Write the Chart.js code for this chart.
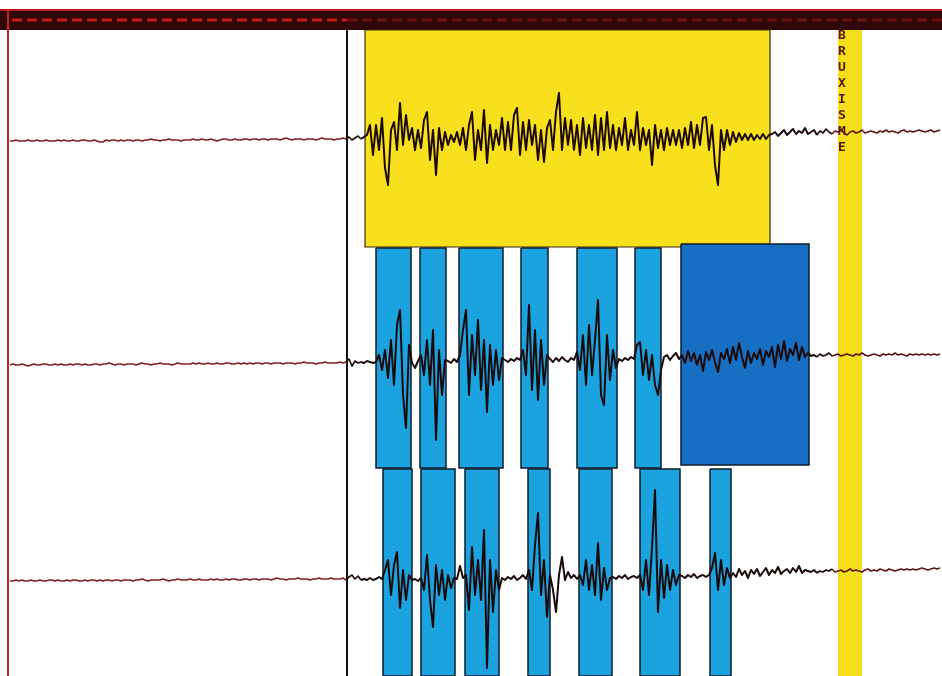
<!DOCTYPE html>
<html>
<head>
<meta charset="utf-8">
<script src="https://cdn.jsdelivr.net/npm/chart.js@4.4.1/dist/chart.umd.min.js"></script>
<style>
  html, body { margin: 0; padding: 0; background: #fff; }
  #wrap { width: 942px; height: 676px; }
</style>
</head>
<body>
<div id="wrap"><canvas id="emg" width="942" height="676"></canvas></div>
<script>
// Línea base de cada canal y muestreo (una muestra cada 3 unidades desde x = 10)
const lineaBase = [141, 365, 581]
const inicioMuestras = 10
const pasoMuestras = 3

// Amplitud de cada canal (positivo = hacia arriba)
const canal1 = [
  0,0,1,0,0,0,1,0,0,1, 0,0,1,0,0,0,1,0,1,0, 0,1,0,0,1,1,0,0,1,0, -1,-1,1,0,1,1,0,1,0,1,
  1,0,1,1,0,1,1,2,1,1, 0,1,1,2,1,1,1,0,1,1, 1,2,1,1,2,1,1,2,1,0, 1,2,2,1,1,2,1,1,2,2,
  1,2,2,1,2,2,1,2,2,2, 1,2,3,2,1,2,2,2,1,2, 2,2,1,2,3,2,2,2,1,2, 2,3,
  2,4,1,3,5,2,4,
  6,16,-14,16,-9,23,-27,-44,11,19, -9,38,-4,26,1,13,-9,11,-7,21, 29,-19,11,-34,13,-9,9,-4,6,-1,
  9,-4,13,-9,16,29,-19,11,-9,31, -22,16,-9,11,-4,23,-9,19,-9,26, 33,-14,19,-9,21,-4,16,-19,11,-21,
  13,21,-9,29,48,-9,23,-4,21,-9, 16,-14,23,-7,16,-9,26,-14,23,-9, 29,-7,16,-9,13,-4,23,-9,11,-4,
  29,-9,13,-4,11,-24,16,-7,11,-9, 13,-4,11,-4,11,-7,13,-4,19,-7, 16,-4,23,24,-9,16,-24,-44,11,-9,
  11,-4,9,-1,8,1,7,1,7,1, 6,2,7,2,6,
  7,9,5,8,11,6,9,12,7,10, 8,13,7,9,11,6,10,8,12,9, 7,10,9,11,8,6,9,10,8,9, 11,8,9,10,9,8,10,9,11,9,
  10,9,8,10,11,9,10,9,10,11, 10,9,10,11,9,10,11
]

const canal2 = [
  0,1,0,0,1,0,-1,0,1,0, 0,1,1,0,0,1,0,1,0,0, 1,0,1,1,0,1,0,0,1,1, 0,1,1,2,1,0,1,1,0,1,
  1,1,0,1,2,1,1,0,1,1, 2,1,1,1,0,1,2,1,1,1, 1,2,1,2,1,1,2,1,1,2, 1,1,2,2,1,1,2,1,2,1,
  2,1,2,2,1,2,2,1,2,2, 2,1,2,2,2,1,2,2,3,2, 2,2,1,2,2,3,2,2,2,2, 3,2,
  3,6,-1,4,2,3,2,4,3,2,
  3,10,-5,15,-13,25,-20,40,55,-30,-63,20,
  2,-3,4,
  10,-10,25,-20,35,-75,15,-30,5,
  4,2,6,3,
  10,35,55,-30,30,-10,45,-25,25,-47,20,-20,15,-15,7,
  5,3,6,4,7,5,
  15,-10,60,-25,35,-35,25,-20,10,
  6,3,7,4,8,5,3,7,5,
  13,-5,30,-20,40,-10,25,65,-30,-40,30,-15,15,-3,
  6,4,7,5,8,6,
  20,23,-10,15,-15,10,-20,-30,-5,
  8,10,5,9,12,6,
  10,2,14,4,12,0,10,-6,13,5, 15,3,-7,12,6,16,2,18,5,22, 8,-3,14,2,12,6,16,0,14,8,
  18,-2,20,6,24,4,16,10,22,5, 18,8,12,
  9,10,8,11,9,10,12,9,10,11, 9,10,11,10,9,11,10,12,10,9, 10,11,10,9,11,10,11,10,12,10,
  11,10,9,11,10,11,10,11,10,11, 10,11,10,11
]

const canal3 = [
  0,0,1,0,1,0,0,1,0,0, 1,0,0,1,1,0,1,0,0,1, 0,1,1,0,0,1,0,1,1,0, 1,0,1,1,0,1,1,0,1,1,
  1,0,1,1,2,1,0,1,1,1, 1,2,1,0,1,1,2,1,1,1, 2,1,1,2,1,1,1,2,1,2, 1,1,2,1,2,2,1,1,2,2,
  1,2,2,1,2,2,2,1,2,3, 2,2,1,2,2,2,3,2,2,2, 1,2,2,3,2,2,2,3,2,2, 2,3,
  1,4,6,2,5,1,2,1,3,1,2,4,2,
  11,21,-14,16,29,-27,11,-19,6,
  1,2,0,
  3,-9,26,-19,-46,16,-14,11,-19,6,-7,3,
  2,15,3,
  6,-29,34,-14,21,-19,51,-87,21,-31,11,-9,
  3,1,4,2,5,1,3,6,2,
  11,-9,36,68,-14,21,-36,6,
  -9,-31,6,24,1,9,3,6,2,
  6,-4,21,-9,16,-14,38,-19,13,-9,3,
  4,2,5,3,6,2,4,5,3,
  6,-9,21,-14,33,91,-31,21,-17,16,-9,11,-4,6,
  5,3,6,4,7,3,5,6,4,
  6,13,28,-9,21,-4,13,3,
  8,4,12,6,10,3,11,7,12,5, 9,13,6,11,8,14,7,10,12,8, 13,9,15,8,11,10,9,11,8,10,
  9,11,10,12,9,10,11,9,10,12, 10,11,10,9,11,12,10,11,10,12, 11,10,12,11,10,11,12,11,12,11,
  12,11,12,13,12,11,12,13,12,13
]

// Zonas marcadas: [x inicio, x fin, y arriba, y abajo]
const zonaAmarilla = [365, 770, 30, 247]
const franjaBruxismo = [838, 862, 30, 676]
const etiqueta = 'BRUXISME'
const fila1 = [248, 468]
const burstsFila1 = [[376, 411], [420, 446], [459, 503], [521, 548], [577, 617], [635, 661]]
const burstLargo = [681, 809, 244, 465]
const fila2 = [469, 676]
const burstsFila2 = [[383, 412], [421, 455], [465, 499], [528, 550], [579, 612], [640, 680], [710, 731]]

// Marco del registro
const bandaSuperior = [0, 942, 9, 30]
const inicioEvento = 347

const rect = (x0, x1, y0, y1) => [
  {x: x0, y: y0}, {x: x1, y: y0}, {x: x1, y: y1}, {x: x0, y: y1}, {x: x0, y: y0}
]

const caja = (pts, fondo, borde, ancho, orden, id) => ({
  id: id,
  data: pts,
  fill: 'shape',
  backgroundColor: fondo,
  borderColor: borde,
  borderWidth: ancho,
  order: orden
})

// Trazo rojo oscuro antes del evento, casi negro durante la actividad
const traza = (valores, base) => ({
  data: valores.map((v, i) => ({x: inicioMuestras + i * pasoMuestras, y: base - v})),
  fill: false,
  borderWidth: 1.6,
  borderColor: '#1c0a0a',
  borderJoinStyle: 'round',
  segment: {
    borderColor: c => {
      const x = c.p0.parsed.x
      if (x < 346) return '#861e1e'
      if (x < 830) return '#1c0a0a'
      return '#5e1616'
    },
    borderWidth: c => {
      const x = c.p0.parsed.x
      return (x > 360 && x < 815) ? 2 : 1.6
    }
  },
  order: 1
})

const linea = (pts, color, ancho, dash, orden) => ({
  data: pts,
  fill: false,
  borderColor: color,
  borderWidth: ancho,
  borderDash: dash,
  order: orden
})

const datasets = []
datasets.push(caja(rect(...bandaSuperior), '#300606', 'rgba(0,0,0,0)', 0, 11))
datasets.push(caja(rect(...zonaAmarilla), '#f8e11c', '#3a2a10', 1.2, 10))
datasets.push(caja(rect(...franjaBruxismo), '#f6df1a', 'rgba(0,0,0,0)', 0, 9, 'franja'))
for (let b of burstsFila1) {
  datasets.push(caja(rect(b[0], b[1], fila1[0], fila1[1]), '#1ba3e0', '#0e1c2c', 1.5, 8))
}
datasets.push(caja(rect(...burstLargo), '#176fc4', '#0e1c2c', 1.5, 8))
for (let b of burstsFila2) {
  datasets.push(caja(rect(b[0], b[1], fila2[0], fila2[1]), '#1ba3e0', '#0e1c2c', 1.5, 8))
}
datasets.push(linea([{x: 0, y: 10}, {x: 942, y: 10}], '#b81c1c', 2, [], 6))
datasets.push(linea([{x: 12, y: 20}, {x: inicioEvento, y: 20}], '#c41a1a', 3, [10, 5], 6))
datasets.push(linea([{x: inicioEvento, y: 20}, {x: 942, y: 20}], '#6a1010', 3, [10, 5], 6))
datasets.push(linea([{x: 8, y: 10}, {x: 8, y: 676}], '#c22424', 2, [], 5))
datasets.push(linea([{x: inicioEvento, y: 30}, {x: inicioEvento, y: 676}], '#141414', 2, [], 5))
datasets.push(traza(canal1, lineaBase[0]))
datasets.push(traza(canal2, lineaBase[1]))
datasets.push(traza(canal3, lineaBase[2]))

// Escribo la etiqueta vertical justo después de pintar la franja amarilla
const etiquetaPlugin = {
  id: 'etiqueta',
  afterDatasetDraw(chart, args) {
    if (chart.data.datasets[args.index].id !== 'franja') return
    const {ctx, scales} = chart
    const cx = scales.x.getPixelForValue((franjaBruxismo[0] + franjaBruxismo[1]) / 2) - 8
    const top = scales.y.getPixelForValue(franjaBruxismo[2])
    ctx.save()
    ctx.fillStyle = '#5c1212'
    ctx.font = 'bold 13px "DejaVu Sans Mono"'
    ctx.textAlign = 'center'
    ctx.textBaseline = 'middle'
    etiqueta.split('').forEach((l, i) => ctx.fillText(l, cx, top + 6 + i * 16))
    ctx.restore()
  }
}

new Chart(document.getElementById('emg'), {
  type: 'line',
  data: { datasets: datasets },
  plugins: [etiquetaPlugin],
  options: {
    responsive: false,
    animation: false,
    devicePixelRatio: 1,
    events: [],
    layout: { padding: 0 },
    elements: { point: { radius: 0 }, line: { tension: 0 } },
    plugins: { legend: { display: false }, tooltip: { enabled: false } },
    scales: {
      x: { type: 'linear', min: 0, max: 942, display: false },
      y: { type: 'linear', min: 0, max: 676, reverse: true, display: false }
    }
  }
})
</script>
</body>
</html>
